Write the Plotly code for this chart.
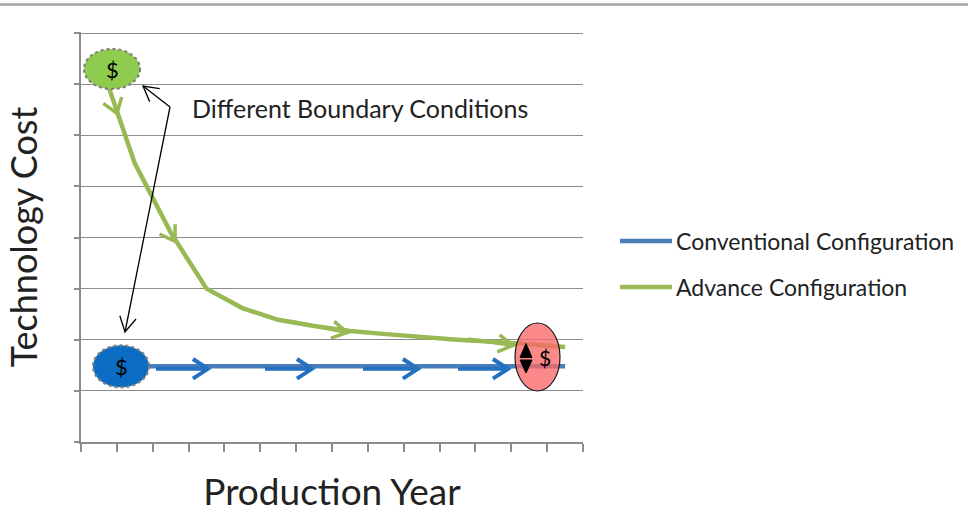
import numpy as np
import plotly.graph_objects as go

# ---- data -------------------------------------------------------------
production_year = [1, 2, 3, 4, 5, 6, 7, 8, 9, 10, 11, 12, 13, 14]
conventional_cost = [1.48, 1.48, 1.48, 1.48, 1.48, 1.48, 1.48,
                     1.48, 1.48, 1.48, 1.48, 1.48, 1.48, 1.48]
advance_cost = [7.5, 5.45, 4.1, 3.0, 2.62, 2.39, 2.27,
                2.17, 2.11, 2.05, 2.0, 1.96, 1.9, 1.86]
series_names = ["Conventional Configuration", "Advance Configuration"]
note_text = "Different Boundary Conditions"
x_title = "Production Year"
y_title = "Technology Cost"

# ---- layout geometry ---------------------------------------------------
W, H = 968, 522
PL, PR, PT, PB = 81, 583, 32, 442          # plot area in pixels
X_RANGE = (0.5, 14.5)
Y_RANGE = (0, 8.02)
PX_X = (PR - PL) / (X_RANGE[1] - X_RANGE[0])
PX_Y = (PB - PT) / (Y_RANGE[1] - Y_RANGE[0])

BLUE = "#4A7EBB"
BLUE_DRAW = "#2471C2"
GREEN = "#98B954"
GRID = "#8C8C8C"
FONT = "Lato"
TXT = "#222222"


def px_to_x(px):
    return X_RANGE[0] + (px - PL) / PX_X


def px_to_y(py):
    return Y_RANGE[0] + (PB - py) / PX_Y


def pfx(px):
    return (px - PL) / (PR - PL)


def pfy(py):
    return (PB - py) / (PB - PT)


shapes = []
annotations = []


def chevron(x, y, direction, length=17, half_angle=32, color="black",
            width=1.2, shaft=0, shift=(0, 0)):
    """Open arrow head at data point (x, y) pointing along a screen
    direction (dx, dy) with y pointing down; drawn in pixel units."""
    d = np.array(direction, float)
    d /= np.hypot(*d)
    back = -d
    pts = []
    for s in (1, -1):
        a = np.radians(half_angle * s)
        r = np.array([back[0] * np.cos(a) - back[1] * np.sin(a),
                      back[0] * np.sin(a) + back[1] * np.cos(a)]) * length
        pts.append(r)
    sx, sy = shift
    # pixel-mode path: +y is up, so flip screen y
    path = (f"M {pts[0][0]+sx:.2f},{-(pts[0][1]+sy):.2f} "
            f"L {sx:.2f},{-sy:.2f} "
            f"L {pts[1][0]+sx:.2f},{-(pts[1][1]+sy):.2f}")
    if shaft:
        path += (f" M {back[0]*shaft+sx:.2f},{-(back[1]*shaft+sy):.2f} "
                 f"L {sx:.2f},{-sy:.2f}")
    shapes.append(dict(type="path", xref="x", yref="y",
                       xsizemode="pixel", ysizemode="pixel",
                       xanchor=x, yanchor=y, path=path,
                       line=dict(color=color, width=width)))


def series_direction(xs, ys, x):
    """Screen direction of a polyline (data) at position x."""
    i = int(np.clip(np.searchsorted(xs, x) - 1, 0, len(xs) - 2))
    dx = (xs[i + 1] - xs[i]) * PX_X
    dy = -(ys[i + 1] - ys[i]) * PX_Y
    return (dx, dy)


fig = go.Figure()
fig.add_trace(go.Scatter(x=production_year, y=conventional_cost,
                         mode="lines", name=series_names[0],
                         line=dict(color=BLUE, width=4.5)))
fig.add_trace(go.Scatter(x=production_year, y=advance_cost,
                         mode="lines", name=series_names[1],
                         line=dict(color=GREEN, width=4.5)))

# ---- hand-drawn direction arrows along the series -----------------------
xs = np.array(production_year, float)
for xp, shaft in [(208, 52), (312, 47), (418, 55), (508, 50)]:
    xd = px_to_x(xp)
    yd = float(np.interp(xd, xs, conventional_cost))
    chevron(xd, yd, series_direction(xs, conventional_cost, xd),
            length=18, half_angle=33, color=BLUE_DRAW, width=4,
            shaft=shaft, shift=(0, 2.5))

for xp, shaft, ang in [(117, 0, 35), (175, 0, 33), (347, 58, 30), (513, 45, 30)]:
    xd = px_to_x(xp)
    yd = float(np.interp(xd, xs, advance_cost))
    d = series_direction(xs, advance_cost, xd)
    if shaft:
        d = (d[0], d[1] + 0.06 * d[0])
    chevron(xd, yd, d, length=17, half_angle=ang, color=GREEN, width=3.5,
            shaft=shaft, shift=(0, 2))

# ---- start markers (dollar badges) -------------------------------------
def badge(cx, cy, rx, ry, fill, dash="dot", edge="#7F7F7F", ew=2.2):
    shapes.append(dict(type="circle", xref="x", yref="y",
                       xsizemode="pixel", ysizemode="pixel",
                       xanchor=cx, yanchor=cy,
                       x0=-rx, x1=rx, y0=-ry, y1=ry,
                       fillcolor=fill, line=dict(color=edge, width=ew, dash=dash)))


def dollar(cx, cy, dxp=0, size=22):
    annotations.append(dict(x=cx, y=cy, xref="x", yref="y", text="$",
                            showarrow=False, xshift=dxp, yshift=0,
                            font=dict(family=FONT, size=size, color="black")))


g_cx, g_cy = px_to_x(112), px_to_y(69)
b_cx, b_cy = px_to_x(121), conventional_cost[0]
badge(g_cx, g_cy, 28, 20, "#8FCB4E")
dollar(g_cx, g_cy)
badge(b_cx, b_cy, 28, 21, "#0A6CC2")
dollar(b_cx, b_cy)

# end marker: translucent red ellipse with up/down arrows
r_cx, r_cy = px_to_x(537.5), px_to_y(357)
badge(r_cx, r_cy, 22.5, 34, "rgba(250,104,104,0.78)", dash="solid",
      edge="#1a1a1a", ew=1.2)
shapes.append(dict(type="path", xref="x", yref="y",
                   xsizemode="pixel", ysizemode="pixel",
                   xanchor=r_cx, yanchor=r_cy,
                   path="M -17.5,-0.5 L -5.5,-0.5 L -11.5,13.5 Z "
                        "M -17.5,-3 L -5.5,-3 L -11.5,-16 Z",
                   fillcolor="black", line=dict(color="black", width=1)))
dollar(r_cx, r_cy, dxp=7, size=21)

# ---- boundary-condition callout ----------------------------------------
apex_x, apex_y = px_to_x(170), px_to_y(107)
for tip in [(-27, -21), (-45, 225)]:
    shapes.append(dict(type="path", xref="x", yref="y",
                       xsizemode="pixel", ysizemode="pixel",
                       xanchor=apex_x, yanchor=apex_y,
                       path=f"M 0,0 L {tip[0]},{-tip[1]}",
                       line=dict(color="black", width=1.3)))
    chevron(apex_x, apex_y, tip, length=17, half_angle=29,
            color="black", width=1.3, shift=tip)

annotations.append(dict(x=px_to_x(190), y=px_to_y(108), xref="x", yref="y",
                        text=note_text, showarrow=False, xanchor="left",
                        font=dict(family=FONT, size=25, color=TXT)))

# ---- legend ------------------------------------------------------------
for name, color, ly in [(series_names[0], BLUE, 241), (series_names[1], GREEN, 287)]:
    shapes.append(dict(type="line", xref="paper", yref="paper",
                       x0=pfx(620), x1=pfx(672), y0=pfy(ly), y1=pfy(ly),
                       line=dict(color=color, width=4.5)))
    annotations.append(dict(x=pfx(674), y=pfy(ly), xref="paper", yref="paper",
                            text=name, showarrow=False, xanchor="left",
                            yanchor="middle",
                            font=dict(family=FONT, size=23, color=TXT)))

# top rule across the page
shapes.append(dict(type="line", xref="paper", yref="paper",
                   x0=pfx(0), x1=pfx(W), y0=pfy(4.5), y1=pfy(4.5),
                   line=dict(color="#A3A3A3", width=2.5)))

tick_bounds = [v - 0.5 for v in production_year] + [production_year[-1] + 0.5]

fig.update_layout(
    width=W, height=H,
    margin=dict(l=PL, r=W - PR, t=PT, b=H - PB),
    paper_bgcolor="white", plot_bgcolor="white",
    showlegend=False,
    shapes=shapes, annotations=annotations,
    font=dict(family=FONT, color=TXT),
    xaxis=dict(range=list(X_RANGE), tickmode="array", tickvals=tick_bounds,
               showticklabels=False, ticks="outside", ticklen=8,
               tickcolor=GRID, tickwidth=1.5, showgrid=False, zeroline=False,
               showline=True, linecolor=GRID, linewidth=1.5,
               title=dict(text=x_title, standoff=28,
                          font=dict(family=FONT, size=37, color=TXT))),
    yaxis=dict(range=list(Y_RANGE), tickmode="array",
               tickvals=[0, 1, 2, 3, 4, 5, 6, 7, 8], showticklabels=False,
               ticks="outside", ticklen=5, tickcolor=GRID, tickwidth=1.5,
               showgrid=True, gridcolor=GRID, gridwidth=1.2, zeroline=False,
               showline=True, linecolor=GRID, linewidth=1.5,
               title=dict(text=y_title, standoff=26,
                          font=dict(family=FONT, size=36, color=TXT))),
)

fig.write_html("out.html")
